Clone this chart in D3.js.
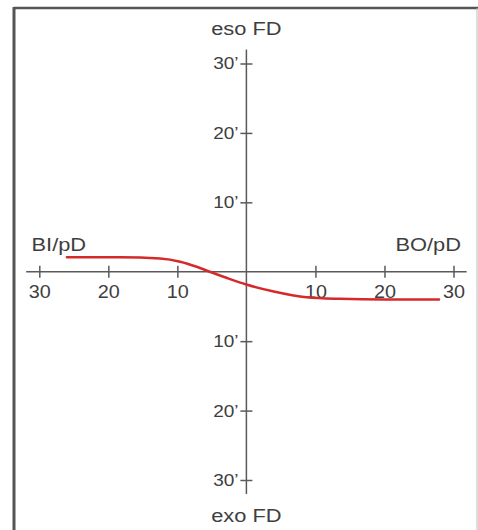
<!DOCTYPE html>
<html>
<head>
<meta charset="utf-8">
<script src="https://cdn.jsdelivr.net/npm/d3@7"></script>
<style>
  body { margin: 0; background: #fff; }
  text { font-family: Arial, "Liberation Sans", Helvetica, sans-serif; fill: #3e3e3e; }
</style>
</head>
<body>
<script>
// curve (horizontal deviation vs vertical deviation)
var curveX = [-26, -18.3, -12.5, -9.6, -7.2, -5.3, -2.9, 0, 3.8, 8.7, 13.5, 20, 27.9];
var curveY = [2.1, 2.1, 1.9, 1.45, 0.72, 0, -0.87, -1.84, -2.8, -3.67, -3.9, -4.0, -4.0];

var xTicks = [-30, -20, -10, 10, 20, 30];
var yTicks = [-30, -20, -10, 10, 20, 30];

var width = 478,
    height = 530;

var svg = d3.select("body").append("svg")
    .attr("width", width)
    .attr("height", height)

// frame
svg.append("line").attr("x1", 14).attr("y1", 8).attr("x2", 478).attr("y2", 8)
  .attr("stroke", "#555").attr("stroke-width", 2.5)
svg.append("line").attr("x1", 14).attr("y1", 7).attr("x2", 14).attr("y2", 530)
  .attr("stroke", "#555").attr("stroke-width", 3)
svg.append("line").attr("x1", 477).attr("y1", 8).attr("x2", 477).attr("y2", 530)
  .attr("stroke", "#bbb").attr("stroke-width", 1)

var x = d3.scaleLinear().domain([-30, 30]).range([39.3, 453.5]);
var y = d3.scaleLinear().domain([-30, 30]).range([480, 63.5]);

var axisColor = "#5a5a5a";

// horizontal axis
var gx = svg.append("g")
  .attr("transform", "translate(0," + y(0) + ")")
  .call(d3.axisBottom(x).tickValues(xTicks).tickSize(6)
    .tickFormat(function(d){ return Math.abs(d) }))
gx.select(".domain").remove()
gx.append("line").attr("x1", x(-31.9)).attr("x2", x(31.9))
  .attr("stroke", axisColor).attr("stroke-width", 1.5)
gx.selectAll(".tick line").attr("y1", -6).attr("y2", 6)
  .attr("stroke", axisColor).attr("stroke-width", 1.5)
gx.selectAll(".tick text")
  .style("font-size", "18px")
  .attr("fill", null)
  .attr("transform", "scale(1.1,1)")
  .attr("dy", null)
  .attr("y", 26)

// vertical axis
var gy = svg.append("g")
  .attr("transform", "translate(" + x(0) + ",0)")
  .call(d3.axisLeft(y).tickValues(yTicks).tickSize(6)
    .tickFormat(function(d){ return Math.abs(d) + "\u2019" }))
gy.select(".domain").remove()
gy.append("line").attr("y1", y(32)).attr("y2", y(-32))
  .attr("stroke", axisColor).attr("stroke-width", 1.5)
gy.selectAll(".tick line").attr("x1", -6).attr("x2", 6)
  .attr("stroke", axisColor).attr("stroke-width", 1.5)
gy.selectAll(".tick text")
  .style("font-size", "17px")
  .attr("fill", null)
  .attr("x", -7)
  .attr("transform", "scale(1.12,1)")

// axis names
function label(t, px, py, anchor){
  svg.append("text")
    .attr("x", px).attr("y", py)
    .attr("text-anchor", anchor)
    .style("font-size", "19px")
    .attr("transform", "translate(" + px + ",0) scale(1.15,1) translate(" + (-px) + ",0)")
    .text(t)
}
label("eso FD", x(0), 35, "middle")
label("exo FD", x(0), 522, "middle")
label("BI/pD", 31.5, 251.5, "start")
label("BO/pD", 461, 251.5, "end")

// the curve
var pts = curveX.map(function(d, i){ return [d, curveY[i]] })
svg.append("path")
  .datum(pts)
  .attr("fill", "none")
  .attr("stroke", "#d42a2a")
  .attr("stroke-width", 2.5)
  .attr("stroke-linecap", "round")
  .attr("d", d3.line()
    .x(function(d){ return x(d[0]) })
    .y(function(d){ return y(d[1]) })
    .curve(d3.curveMonotoneX))
</script>
</body>
</html>
